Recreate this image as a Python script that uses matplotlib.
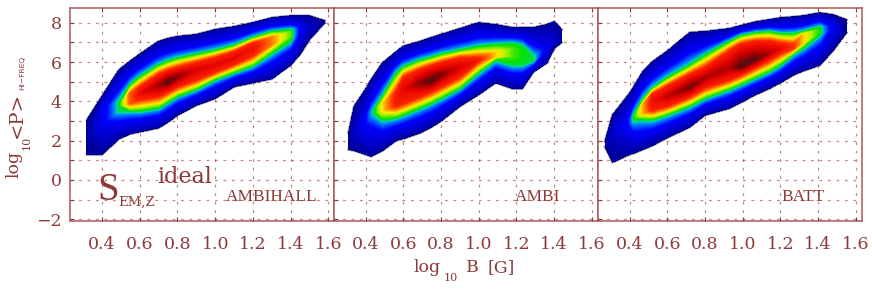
import numpy as np
import matplotlib
matplotlib.use('Agg')
import matplotlib.pyplot as plt
from matplotlib.colors import LinearSegmentedColormap

# values, one entry per column of each cloud
x_hall = [.32, .40, .49, .55, .60, .70, .75, .80, .90, 1.0, 1.1, 1.2, 1.3, 1.4, 1.45, 1.5, 1.58]
up_hall = [3.05, 4.25, 5.6, 6.05, 6.4, 7.05, 7.2, 7.3, 7.4, 7.65, 7.8, 8.0, 8.25, 8.35, 8.35, 8.35, 8.1]
gu_hall = [2.4, 3.6, 4.0, 4.85, 5.25, 5.85, 6.05, 6.2, 6.4, 6.6, 6.85, 7.25, 7.55, 7.65, 7.8, 7.9, 8.06]
ru_hall = [2.3, 3.3, 3.85, 4.4, 4.7, 5.35, 5.55, 5.7, 5.95, 6.2, 6.5, 6.95, 7.25, 7.55, 7.75, 7.85, 8.05]
ce_hall = [2.2, 3.2, 3.8, 4.1, 4.4, 4.8, 5.0, 5.25, 5.6, 5.85, 6.2, 6.7, 7.1, 7.4, 7.65, 7.8, 8.05]
rl_hall = [2.1, 3.1, 3.75, 3.9, 4.1, 4.25, 4.5, 4.75, 5.1, 5.5, 5.9, 6.35, 6.9, 7.3, 7.55, 7.75, 8.04]
gl_hall = [2.0, 2.8, 3.5, 3.5, 3.5, 3.65, 3.95, 4.25, 4.6, 5.1, 5.45, 5.8, 6.45, 7.05, 7.45, 7.7, 8.03]
lo_hall = [1.3, 1.3, 2.1, 2.35, 2.45, 2.65, 2.95, 3.3, 3.8, 4.15, 4.75, 4.95, 5.15, 5.85, 6.4, 7.15, 8.0]
pk_hall = [0, .25, .5, .75, .85, .93, 1.0, .95, .88, .86, .86, .84, .72, .55, .3, .1, 0]

x_ambi = [.31, .34, .40, .43, .49, .56, .60, .69, .75, .80, .90, 1.0, 1.09, 1.18, 1.23, 1.29, 1.36, 1.40, 1.44]
up_ambi = [2.4, 3.75, 4.6, 5.1, 5.95, 6.5, 6.8, 7.05, 7.25, 7.4, 7.7, 8.0, 7.9, 7.75, 7.75, 7.75, 7.9, 8.05, 7.65]
gu_ambi = [1.95, 2.6, 3.2, 3.5, 4.25, 5.4, 5.75, 6.1, 6.25, 6.4, 6.6, 6.8, 6.9, 6.95, 6.85, 6.3, 6.8, 7.2, 7.3]
ru_ambi = [1.9, 2.5, 3.1, 3.45, 3.9, 4.4, 5.2, 5.6, 5.8, 5.95, 6.2, 6.2, 6.5, 6.7, 6.6, 6.2, 6.75, 7.15, 7.25]
ce_ambi = [1.85, 2.45, 3.0, 3.4, 3.7, 4.05, 4.6, 4.95, 5.05, 5.35, 5.75, 6.1, 6.4, 6.5, 6.4, 6.15, 6.7, 7.1, 7.2]
rl_ambi = [1.8, 2.4, 2.95, 3.35, 3.5, 3.75, 3.9, 4.25, 4.5, 4.75, 5.25, 6.05, 6.3, 6.3, 6.2, 6.1, 6.65, 7.05, 7.15]
gl_ambi = [1.75, 2.3, 2.8, 3.3, 3.05, 3.15, 3.3, 3.65, 3.9, 4.15, 4.65, 5.45, 6.1, 5.85, 5.85, 6.05, 6.6, 7.0, 7.1]
lo_ambi = [1.55, 1.5, 1.3, 1.2, 1.5, 2.0, 2.1, 2.4, 2.7, 3.0, 3.75, 4.35, 4.95, 4.65, 4.65, 5.5, 5.95, 6.7, 7.0]
pk_ambi = [0, .1, .3, .45, .65, .82, .86, .95, 1.0, .96, .88, .82, .66, .55, .52, .5, .25, .12, 0]

x_batt = [.27, .31, .40, .42, .47, .52, .60, .72, .80, .93, .99, 1.07, 1.14, 1.2, 1.27, 1.32, 1.41, 1.48, 1.55]
up_batt = [1.95, 3.3, 4.4, 4.7, 5.5, 6.0, 6.55, 7.5, 7.55, 7.7, 7.85, 8.05, 8.15, 8.25, 8.3, 8.35, 8.5, 8.4, 8.15]
gu_batt = [1.85, 2.5, 3.1, 3.25, 4.1, 4.65, 5.2, 5.85, 6.35, 7.05, 7.35, 7.5, 7.55, 7.45, 7.45, 7.55, 7.8, 7.85, 7.85]
ru_batt = [1.82, 2.45, 3.0, 3.2, 3.85, 4.35, 4.75, 5.35, 5.7, 6.55, 6.9, 7.05, 7.05, 6.95, 6.9, 7.4, 7.7, 7.8, 7.82]
ce_batt = [1.8, 2.4, 2.95, 3.15, 3.6, 4.0, 4.25, 4.7, 5.2, 5.7, 5.8, 6.15, 6.45, 6.7, 6.8, 7.2, 7.6, 7.75, 7.8]
rl_batt = [1.78, 2.35, 2.9, 3.1, 3.4, 3.55, 3.75, 4.25, 4.7, 5.1, 5.35, 5.75, 6.1, 6.45, 6.7, 7.0, 7.5, 7.7, 7.78]
gl_batt = [1.75, 2.3, 2.8, 3.05, 3.05, 3.05, 3.3, 3.75, 4.15, 4.6, 4.85, 5.2, 5.5, 5.85, 6.4, 6.7, 7.4, 7.65, 7.75]
lo_batt = [1.7, 0.9, 1.3, 1.35, 1.55, 1.75, 2.15, 2.7, 3.3, 3.65, 3.95, 4.35, 4.65, 4.95, 5.35, 5.55, 5.85, 6.6, 7.5]
pk_batt = [0, .12, .35, .5, .68, .84, .9, .97, .92, .92, 1.0, .99, .92, .86, .78, .66, .52, .25, 0]

panel_names = ['AMBIHALL', 'AMBI', 'BATT']
name_x = [271.5, 538, 803]
panel_left = [70, 333.5, 597.5]
x_ticks = [0.4, 0.6, 0.8, 1.0, 1.2, 1.4, 1.6]
y_ticks = [-2, 0, 2, 4, 6, 8]
y_minor = [-1, 1, 3, 5, 7]
row_levels = [0, .5, .8, 1.0, .8, .5, 0]

W, H = 872, 291
COL = '#8c3a3a'
LINE = '#a85a5a'
DOTS = (0, (2.2, 4.6))

plt.rcParams['font.family'] = 'DejaVu Serif'

cmap = LinearSegmentedColormap.from_list('idl', [
    (0.0, '#000098'), (0.15, '#0000d0'), (0.33, '#0000ff'), (0.45, '#0090ff'),
    (0.48, '#00d8a0'), (0.52, '#00e000'), (0.6, '#b0f000'), (0.65, '#ffe800'),
    (0.72, '#ff8000'), (0.8, '#ff2000'), (0.88, '#e00000'), (0.95, '#900000'),
    (1.0, '#501010')])

fig = plt.figure(figsize=(W / 100, H / 100), dpi=100)
clouds = [
    (x_hall, up_hall, gu_hall, ru_hall, ce_hall, rl_hall, gl_hall, lo_hall, pk_hall),
    (x_ambi, up_ambi, gu_ambi, ru_ambi, ce_ambi, rl_ambi, gl_ambi, lo_ambi, pk_ambi),
    (x_batt, up_batt, gu_batt, ru_batt, ce_batt, rl_batt, gl_batt, lo_batt, pk_batt),
]

for i, c in enumerate(clouds):
    ax = fig.add_axes([panel_left[i] / W, 1 - 221 / H, 264 / W, 213 / H])
    x = np.array(c[0])
    rows = np.array([c[7], c[6], c[5], c[4], c[3], c[2], c[1]])
    peak = np.array(c[8])
    X = np.tile(x, (7, 1))
    Z = np.array([np.minimum(l, peak) for l in row_levels])
    ax.plot(x, c[1], color='#808080', lw=1.8, zorder=2)
    ax.plot(x, c[7], color='#808080', lw=1.8, zorder=2)
    ax.contourf(X, rows, Z, levels=np.linspace(0, 1, 129), cmap=cmap, vmin=0, vmax=1,
                zorder=3, antialiased=False)

    ax.set_xlim(0.23, 1.63)
    ax.set_ylim(-2.09, 8.75)
    ax.set_xticks(x_ticks)
    ax.set_yticks(y_ticks)
    ax.set_yticks(y_minor, minor=True)
    # grid sits on top of the cloud but stays faint
    ax.grid(True, which='both', color='#a83030', lw=0.9, ls=DOTS, alpha=0.6)
    ax.set_axisbelow(False)
    ax.tick_params(axis='both', which='both', colors=COL, length=3, width=0.8, direction='in', top=True)
    ax.tick_params(axis='x', labelsize=12.5, pad=11)
    ax.tick_params(axis='y', labelsize=12.5, pad=6)
    ax.set_xticklabels(['%.1f' % t for t in x_ticks])
    ax.set_yticklabels(['\u2212%d' % -t if t < 0 else str(t) for t in y_ticks])
    if i > 0:
        ax.tick_params(axis='y', labelleft=False)
    for s in ax.spines.values():
        s.set_color(LINE)
        s.set_linewidth(1.1)
    fig.text(name_x[i] / W, 1 - 197 / H, panel_names[i], color=COL, fontsize=12.4,
             ha='center', va='center', family='Liberation Serif')


def put(px, py, s, size, rot=0, family='DejaVu Serif'):
    fig.text(px / W, 1 - py / H, s, color=COL, fontsize=size, rotation=rot,
             ha='center', va='center', family=family)


put(108, 190, 'S', 28, family='Liberation Serif')
put(137, 202, 'EM,Z', 9.5)
put(185, 177, 'ideal', 16)

put(427, 268, 'log', 12.5)
put(451, 278, '10', 8)
put(472, 268, 'B', 12.5)
put(501, 268, '[G]', 12.5)

put(14, 164, 'log', 12.5, rot=90)
put(27, 143, '10', 8, rot=90)
put(17, 115, '<P>', 14, rot=90)
put(22, 73, 'HI\u2212FREQ', 5.4, rot=90, family='DejaVu Sans')

fig.savefig('out.png', dpi=100)
